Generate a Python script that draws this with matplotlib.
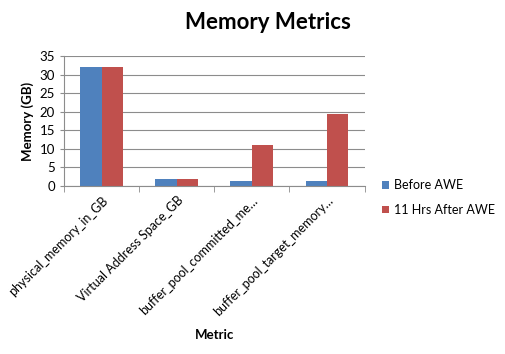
import numpy as np
import matplotlib.pyplot as plt

metrics = ["physical_memory_in_GB", "Virtual Address Space_GB",
           "buffer_pool_committed_me…", "buffer_pool_target_memory…"]
before_awe = [32, 2, 1.4, 1.4]
after_awe = [32, 2, 11, 19.5]

plt.rcParams['font.family'] = ['Lato', 'DejaVu Sans']

fig = plt.figure(figsize=(5.06, 3.54), dpi=100)
fig.patch.set_facecolor("white")
ax = fig.add_axes([0.1265, 0.4746, 0.594, 0.367])

x = np.arange(len(metrics))
w = 0.285
ax.bar(x - w / 2, before_awe, w, color="#4F81BD", label="Before AWE")
ax.bar(x + w / 2, after_awe, w, color="#C0504D", label="11 Hrs After AWE")

ax.set_xlim(-0.5, len(metrics) - 0.5)
ax.set_ylim(0, 35)
ax.set_yticks(range(0, 36, 5))
ax.yaxis.grid(True, color="#8c8c8c", linewidth=0.8)
ax.set_axisbelow(True)
ax.tick_params(axis='y', length=3, color="#8c8c8c", labelsize=9.5)

ax.set_xticks(x)
ax.set_xticklabels(metrics, rotation=45, ha='right', rotation_mode='anchor', fontsize=9)
ax.tick_params(axis='x', length=0, pad=6)
ax.set_xticks(np.arange(-0.5, len(metrics)), minor=True)
ax.tick_params(axis='x', which='minor', length=4, color="#8c8c8c")

for s in ['top', 'right']:
    ax.spines[s].set_visible(False)
for s in ['left', 'bottom']:
    ax.spines[s].set_color("#8c8c8c")

ax.set_ylabel("Memory (GB)", fontsize=9.5, fontweight='bold')
ax.set_xlabel("Metric", fontsize=9.5, fontweight='bold', labelpad=8)
fig.suptitle("Memory Metrics", x=0.53, y=0.965, fontsize=16, fontweight='bold')

ax.legend(loc='center left', bbox_to_anchor=(1.02, -0.09), frameon=False,
          fontsize=9, handlelength=0.6, handleheight=0.6, handletextpad=0.4,
          labelspacing=1.0)

fig.savefig("out.png", dpi=100, facecolor="white")
